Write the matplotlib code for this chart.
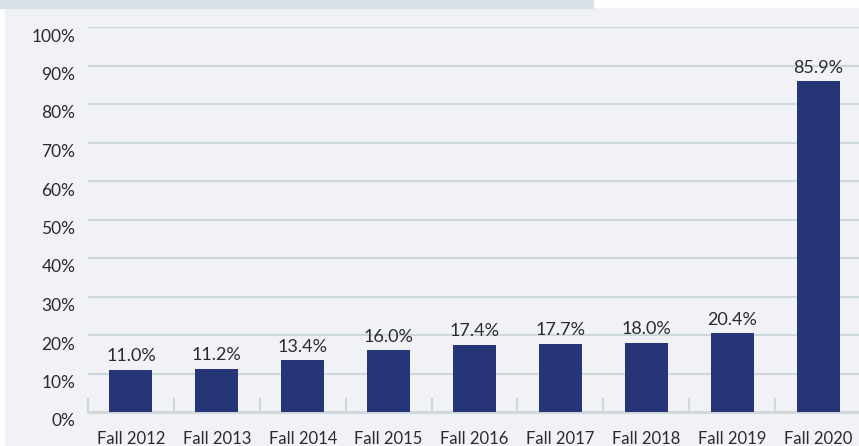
import matplotlib
matplotlib.use("Agg")
import matplotlib.pyplot as plt
import matplotlib.transforms as mtransforms
from matplotlib.patches import Rectangle

#----------------------------------------------------------------
# data
#----------------------------------------------------------------
termL = ['Fall 2012', 'Fall 2013', 'Fall 2014', 'Fall 2015', 'Fall 2016',
         'Fall 2017', 'Fall 2018', 'Fall 2019', 'Fall 2020']
pctL = [11.0, 11.2, 13.4, 16.0, 17.4, 17.7, 18.0, 20.4, 85.9]
ytickL = [0, 10, 20, 30, 40, 50, 60, 70, 80, 90, 100]

bar_color = '#263478'
bg_color = '#f0f2f6'
strip_color = '#d9e0e8'
line_color = '#cdd7dc'
text_color = '#2b2b2b'

plt.rcParams['font.family'] = ['Lato', 'DejaVu Sans']

W, H = 859, 446
fig = plt.figure(figsize=(W / 100, H / 100), dpi=100, facecolor='white')

# panel background and header strip
fig.patches.append(Rectangle((5 / W, 0), 1 - 5 / W, (H - 8) / H,
                             transform=fig.transFigure, color=bg_color, zorder=-10))
fig.patches.append(Rectangle((0, (H - 8) / H), 593 / W, 8 / H,
                             transform=fig.transFigure, color=strip_color, zorder=-10))

ax = fig.add_axes([88 / W, (H - 412) / H, (861 - 88) / W, (412 - 27) / H])
ax.set_facecolor('none')
ax.set_zorder(1)

x = list(range(len(termL)))
bars = ax.bar(x, pctL, width=0.5, color=bar_color, zorder=3)
for xi, v in zip(x, pctL):
    ax.annotate('%.1f%%' % v, (xi, v), xytext=(0, 4), textcoords='offset points',
                ha='center', va='bottom', fontsize=13, color=text_color)

ax.set_xlim(-0.5, len(termL) - 0.5)
ax.set_ylim(0, 100)

ax.set_yticks(ytickL)
ax.set_yticklabels(['%d%%' % t for t in ytickL], fontsize=12.5, color=text_color)
ax.tick_params(axis='y', length=0, pad=9)
shift = mtransforms.ScaledTranslation(0, -8 / 100, fig.dpi_scale_trans)
for lbl in ax.get_yticklabels():
    lbl.set_transform(lbl.get_transform() + shift)

ax.set_xticks(x)
ax.set_xticklabels(termL, fontsize=12, color=text_color)
ax.tick_params(axis='x', which='major', length=0, pad=14)
ax.set_xticks([i - 0.5 for i in range(len(termL) + 1)], minor=True)
ax.tick_params(axis='x', which='minor', direction='in', length=10,
               width=1.5, color=line_color)

ax.yaxis.grid(True, color=line_color, linewidth=1.5, zorder=0)
ax.set_axisbelow(True)
for side in ['top', 'right', 'left']:
    ax.spines[side].set_visible(False)
ax.spines['bottom'].set_color(line_color)
ax.spines['bottom'].set_linewidth(2)

fig.savefig('out.png', dpi=100, facecolor='white')
